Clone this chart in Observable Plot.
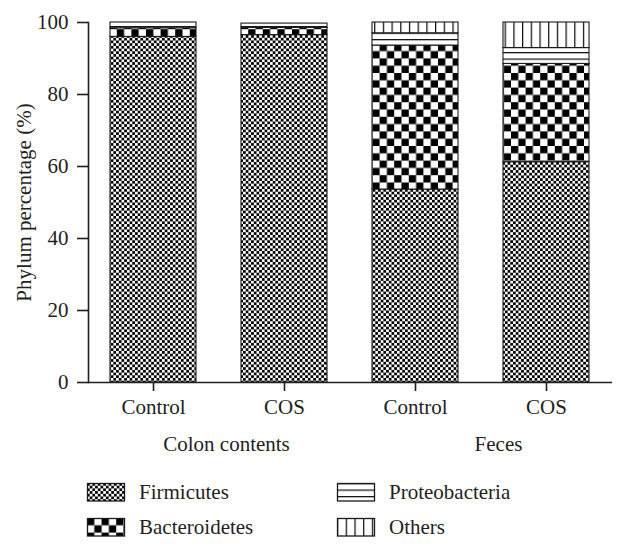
<!DOCTYPE html>
<html>
<head>
<meta charset="utf-8">
<script src="https://cdn.jsdelivr.net/npm/d3@7"></script>
<script src="https://cdn.jsdelivr.net/npm/@observablehq/plot@0.6"></script>
<style>
  html, body { margin: 0; padding: 0; background: #fff; }
  #chart { width: 642px; font-family: 'Liberation Serif', 'DejaVu Serif', serif; }
  #chart svg, #chart svg text { font-family: 'Liberation Serif', 'DejaVu Serif', serif !important; }
  svg { display: block; }
</style>
</head>
<body>
<div id="chart"></div>
<script>
// ---- data ----
const categories = ["Colon Control", "Colon COS", "Feces Control", "Feces COS"];
const tickLabels = ["Control", "COS", "Control", "COS"];
const groupLabels = ["Colon contents", "Feces"];
const groupAnchors = ["Colon COS", "Feces COS"];
const phyla = ["Firmicutes", "Bacteroidetes", "Proteobacteria", "Others"];
const firmicutes     = [96.0, 96.5, 53.6, 61.2];
const bacteroidetes  = [2.4, 2.0, 40.0, 27.3];
const proteobacteria = [1.6, 1.2, 3.4, 4.4];
const others         = [0.0, 0.0, 3.0, 7.1];
const yTicks = [0, 20, 40, 60, 80, 100];

const series = [firmicutes, bacteroidetes, proteobacteria, others];
const rows = categories.flatMap((c, i) =>
  phyla.map((p, j) => ({category: c, phylum: p, value: series[j][i]}))
).filter(d => d.value > 0);

const ink = "#231f20";
const font = "'Liberation Serif', 'DejaVu Serif', serif";

// ---- patterns (shared defs) ----
const defs = d3.select("#chart").append("svg").attr("width", 0).attr("height", 0)
  .style("position", "absolute").append("defs");
const pid = p => "pat-" + p;
{
  const s = 5.4, h = s / 2;
  const pf = defs.append("pattern").attr("id", pid("Firmicutes")).attr("patternUnits", "userSpaceOnUse")
    .attr("width", s).attr("height", s);
  pf.append("rect").attr("width", s).attr("height", s).attr("fill", "#fff");
  pf.append("rect").attr("width", h).attr("height", h).attr("fill", "#000");
  pf.append("rect").attr("x", h).attr("y", h).attr("width", h).attr("height", h).attr("fill", "#000");
}
{
  const s = 14.6, h = s / 2;
  const pb = defs.append("pattern").attr("id", pid("Bacteroidetes")).attr("patternUnits", "userSpaceOnUse")
    .attr("width", s).attr("height", s);
  pb.append("rect").attr("width", s).attr("height", s).attr("fill", "#fff");
  pb.append("rect").attr("width", h).attr("height", h).attr("fill", "#000");
  pb.append("rect").attr("x", h).attr("y", h).attr("width", h).attr("height", h).attr("fill", "#000");
}
{
  const pp = defs.append("pattern").attr("id", pid("Proteobacteria")).attr("patternUnits", "userSpaceOnUse")
    .attr("width", 10).attr("height", 6.5);
  pp.append("rect").attr("width", 10).attr("height", 6.5).attr("fill", "#fff");
  pp.append("line").attr("x1", 0).attr("x2", 10).attr("y1", 0.6).attr("y2", 0.6)
    .attr("stroke", "#111").attr("stroke-width", 1.3);
}
{
  const po = defs.append("pattern").attr("id", pid("Others")).attr("patternUnits", "userSpaceOnUse")
    .attr("width", 8.7).attr("height", 10);
  po.append("rect").attr("width", 8.7).attr("height", 10).attr("fill", "#fff");
  po.append("line").attr("x1", 0.6).attr("x2", 0.6).attr("y1", 0).attr("y2", 10)
    .attr("stroke", "#111").attr("stroke-width", 1.3);
}

// ---- chart ----
const chart = Plot.plot({
  width: 642,
  height: 465,
  marginTop: 22,
  marginBottom: 83,
  marginLeft: 88,
  marginRight: 30,
  style: {fontFamily: font, fontSize: "21px", color: ink, background: "#fff", overflow: "visible"},
  x: {domain: categories, paddingInner: 0.34, paddingOuter: 0.17, label: null},
  y: {domain: [0, 100], label: null},
  color: {domain: phyla, range: phyla.map(p => `url(#${pid(p)})`)},
  marks: [
    Plot.barY(rows, {x: "category", y: "value", fill: "phylum", stroke: "#1a1a1a", strokeWidth: 1.1}),
    Plot.frame({anchor: "left", stroke: ink, strokeWidth: 1.6}),
    Plot.ruleY([0], {stroke: ink, strokeWidth: 1.6}),
    Plot.axisY({ticks: yTicks, tickSize: 11, tickPadding: 9, strokeWidth: 1.6, stroke: ink,
      label: "Phylum percentage (%)", labelAnchor: "center", labelArrow: "none", labelOffset: 72}),
    Plot.axisX({tickSize: 9, tickPadding: 8, strokeWidth: 1.6, stroke: ink, label: null,
      tickFormat: d => tickLabels[categories.indexOf(d)]}),
    Plot.text([groupLabels[0]], {x: () => groupAnchors[0], y: () => 0, text: d => d,
      lineAnchor: "middle", dy: 62, dx: -58, fill: ink}),
    Plot.text([groupLabels[1]], {x: () => groupAnchors[1], y: () => 0, text: d => d,
      lineAnchor: "middle", dy: 62, dx: -48, fill: ink})
  ]
});
document.getElementById("chart").appendChild(chart);

// ---- legend ----
const leg = d3.select("#chart").append("svg").attr("width", 642).attr("height", 86)
  .style("font-family", font).style("font-size", "21px");
const legX = [87, 87, 337, 337];
const legY = [18, 53, 18, 53];
phyla.forEach((p, i) => {
  const g = leg.append("g").attr("transform", `translate(${legX[i]},${legY[i]})`);
  g.append("rect").attr("x", 0.5).attr("y", 0.5).attr("width", 37).attr("height", 17.5)
    .attr("fill", `url(#${pid(p)})`).attr("stroke", "#1a1a1a").attr("stroke-width", 1.3);
  g.append("text").attr("x", 52).attr("y", 9).attr("dy", "0.35em").attr("fill", ink).text(p);
});
</script>
</body>
</html>
